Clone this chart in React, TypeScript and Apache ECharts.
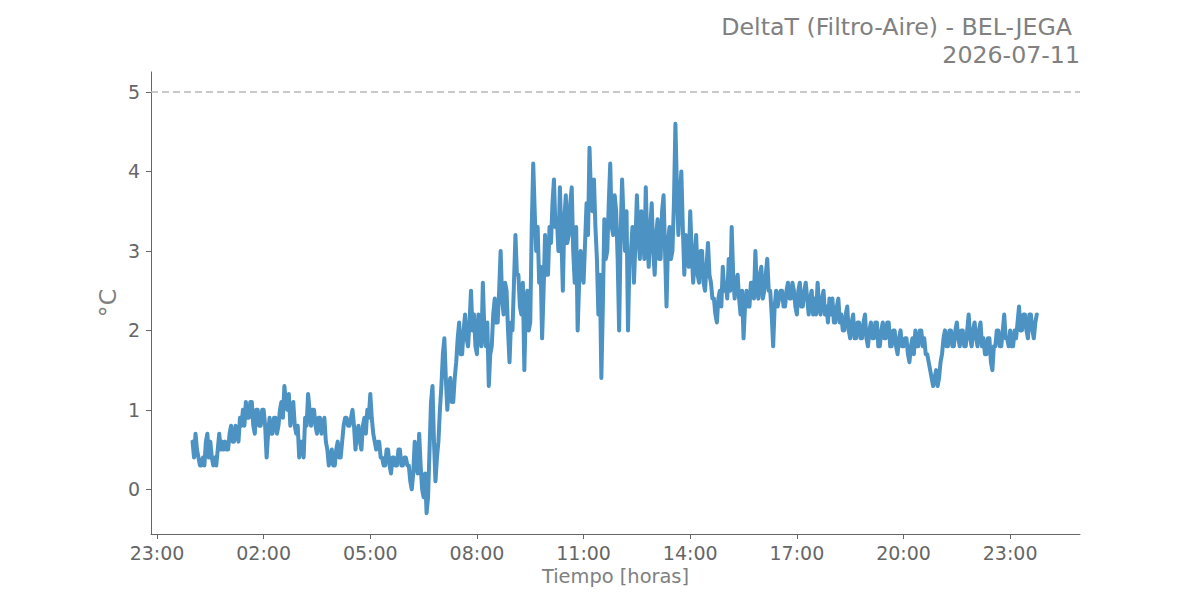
import { useEffect, useRef } from "react";
import * as echarts from "echarts";

// DeltaT readings every 2.5 minutes from 00:00 (°C), one row per hour
const stepMinutes = 2.5;
const deltaT: number[] = [
  0.6, 0.4, 0.7, 0.5, 0.4, 0.3, 0.3, 0.4, 0.3, 0.6, 0.7, 0.4, 0.6, 0.4, 0.3, 0.4, 0.3, 0.5, 0.7, 0.5, 0.6, 0.5, 0.6, 0.5, // 00
  0.5, 0.7, 0.8, 0.6, 0.6, 0.8, 0.7, 0.6, 0.9, 0.8, 1.0, 0.8, 1.1, 0.9, 0.9, 1.1, 1.1, 0.8, 0.7, 1.0, 1.0, 0.8, 0.8, 1.0, // 01
  1.0, 0.8, 0.4, 0.7, 0.9, 0.7, 0.7, 0.9, 0.9, 0.7, 0.8, 1.0, 1.1, 0.9, 1.3, 1.1, 1.0, 1.2, 0.8, 1.0, 1.1, 0.8, 0.7, 0.8, // 02
  0.4, 0.6, 0.6, 0.4, 0.9, 0.8, 1.2, 1.0, 0.8, 1.0, 1.0, 0.8, 0.7, 0.9, 0.9, 0.7, 0.8, 0.9, 0.6, 0.5, 0.3, 0.4, 0.5, 0.3, // 03
  0.3, 0.5, 0.6, 0.4, 0.4, 0.6, 0.8, 0.9, 0.9, 0.8, 0.8, 0.9, 1.0, 0.8, 0.5, 0.7, 0.8, 0.6, 0.5, 0.8, 0.9, 0.7, 1.0, 0.9, // 04
  1.2, 0.9, 0.7, 0.6, 0.5, 0.6, 0.6, 0.4, 0.4, 0.3, 0.3, 0.5, 0.5, 0.3, 0.2, 0.4, 0.4, 0.3, 0.3, 0.5, 0.5, 0.3, 0.3, 0.4, // 05
  0.4, 0.3, 0.3, 0.1, 0.0, 0.2, 0.6, 0.3, 0.2, 0.7, 0.3, 0.0, -0.1, 0.2, -0.3, -0.1, 0.5, 1.1, 1.3, 0.6, 0.1, 0.4, 0.6, 1.0, // 06
  1.3, 1.7, 1.9, 1.4, 1.0, 1.3, 1.4, 1.1, 1.1, 1.4, 1.6, 1.9, 2.1, 1.7, 1.7, 2.0, 2.2, 1.9, 1.8, 2.1, 2.5, 2.0, 2.2, 1.8, // 07
  1.7, 2.2, 2.1, 1.8, 2.6, 2.0, 1.8, 2.1, 1.3, 1.7, 1.8, 2.2, 2.4, 2.1, 2.1, 2.5, 3.0, 2.4, 2.2, 2.6, 2.5, 2.0, 1.6, 2.1, // 08
  2.0, 2.6, 3.2, 2.7, 2.7, 2.3, 2.2, 2.6, 1.5, 2.3, 2.5, 2.0, 2.1, 3.3, 4.1, 3.5, 3.0, 3.3, 2.6, 2.8, 1.9, 2.5, 3.2, 2.7, // 09
  2.7, 3.3, 3.1, 3.6, 3.9, 3.3, 3.4, 3.0, 3.8, 3.2, 2.5, 3.4, 3.7, 3.1, 3.2, 3.6, 3.8, 3.0, 2.6, 3.3, 2.0, 2.6, 3.0, 2.7, // 10
  2.6, 3.1, 3.6, 3.2, 4.3, 3.7, 3.5, 3.9, 3.3, 2.9, 2.2, 2.7, 1.4, 2.3, 3.4, 2.9, 3.0, 3.6, 4.1, 3.3, 3.2, 3.7, 3.5, 2.9, // 11
  2.0, 3.2, 3.9, 3.4, 3.0, 3.5, 2.0, 2.9, 3.0, 3.3, 2.6, 3.1, 3.7, 3.2, 2.9, 3.5, 3.3, 2.9, 3.8, 3.1, 2.8, 3.3, 3.6, 3.0, // 12
  2.7, 3.2, 3.4, 2.9, 2.9, 3.5, 3.7, 3.0, 2.3, 3.1, 3.3, 2.9, 3.0, 3.6, 4.6, 3.8, 3.2, 3.7, 4.0, 3.3, 2.7, 3.2, 3.1, 2.8, // 13
  3.5, 3.0, 2.6, 2.9, 3.2, 2.7, 2.6, 3.0, 3.0, 2.6, 2.5, 2.8, 3.1, 2.7, 2.6, 2.4, 2.4, 2.2, 2.1, 2.4, 2.5, 2.3, 2.8, 2.5, // 14
  2.6, 2.4, 2.9, 2.5, 3.3, 2.7, 2.4, 2.6, 2.7, 2.4, 2.2, 2.5, 1.9, 2.3, 2.5, 2.3, 2.3, 2.6, 2.6, 2.4, 3.0, 2.5, 2.4, 2.7, // 15
  2.8, 2.4, 2.5, 2.7, 2.9, 2.5, 2.5, 2.2, 1.8, 2.3, 2.5, 2.3, 2.4, 2.5, 2.5, 2.3, 2.3, 2.5, 2.6, 2.4, 2.4, 2.6, 2.5, 2.3, // 16
  2.2, 2.5, 2.6, 2.3, 2.3, 2.5, 2.6, 2.4, 2.2, 2.4, 2.5, 2.2, 2.4, 2.2, 2.6, 2.3, 2.2, 2.4, 2.5, 2.2, 2.3, 2.1, 2.4, 2.2, // 17
  2.4, 2.1, 2.1, 2.3, 2.4, 2.1, 2.2, 2.0, 2.0, 2.2, 2.3, 2.0, 1.9, 2.1, 2.2, 1.9, 1.9, 2.1, 2.1, 1.9, 1.9, 2.1, 2.2, 1.9, // 18
  1.8, 2.0, 2.1, 1.9, 1.9, 2.1, 2.1, 1.8, 1.8, 2.0, 2.1, 1.9, 1.9, 2.1, 2.1, 1.8, 1.8, 2.0, 2.0, 1.8, 1.7, 1.9, 2.0, 1.8, // 19
  1.8, 1.9, 1.9, 1.7, 1.6, 1.8, 1.9, 1.7, 2.0, 1.8, 1.8, 2.0, 2.0, 1.8, 1.9, 1.7, 1.7, 1.6, 1.5, 1.4, 1.3, 1.4, 1.5, 1.3, // 20
  1.4, 1.6, 1.7, 1.9, 2.0, 1.8, 1.8, 2.0, 2.0, 1.8, 1.8, 2.0, 2.1, 1.9, 1.8, 2.0, 2.0, 1.8, 1.8, 2.0, 2.2, 1.9, 1.8, 2.0, // 21
  2.1, 1.9, 1.8, 2.0, 2.1, 1.8, 1.9, 1.7, 1.7, 1.9, 1.9, 1.6, 1.5, 1.8, 1.8, 2.0, 2.0, 1.8, 1.8, 2.0, 2.2, 1.9, 1.9, 1.8, // 22
  2.0, 1.8, 1.8, 2.0, 1.9, 2.1, 2.3, 2.0, 2.0, 2.2, 2.2, 2.0, 1.9, 2.2, 2.2, 2.0, 1.9, 2.1, 2.2, // 23
];

// tick positions in hours from midnight, and their labels
const xTickHours = [-1, 2, 5, 8, 11, 14, 17, 20, 23];
const xTickLabels = ["23:00", "02:00", "05:00", "08:00", "11:00", "14:00", "17:00", "20:00", "23:00"];
const yTicks = [0, 1, 2, 3, 4, 5];
const thresholdValue = 5;

const titleLine1 = "DeltaT (Filtro-Aire) - BEL-JEGA";
const titleLine2 = "2026-07-11";

const FONT = "DejaVu Sans";

function App() {
  const chartRef = useRef<HTMLDivElement>(null);

  useEffect(() => {
    if (!chartRef.current) return;
    const chart = echarts.init(chartRef.current, undefined, { renderer: "svg" });

    const points = deltaT.map((v, i) => [(i * stepMinutes) / 60, v]);

    chart.setOption({
      animation: false,
      backgroundColor: "#ffffff",
      textStyle: { fontFamily: FONT },
      grid: { left: 151, right: 120, top: 72, bottom: 66 },
      graphic: [
        {
          type: "text",
          right: 128,
          top: 15,
          style: { text: titleLine1, fontSize: 23.7, fill: "#808080", fontFamily: FONT },
        },
        {
          type: "text",
          right: 120,
          top: 43,
          style: { text: titleLine2, fontSize: 23.7, fill: "#808080", fontFamily: FONT },
        },
      ],
      xAxis: {
        type: "value",
        min: -1.169,
        max: 24.965,
        name: "Tiempo [horas]",
        nameLocation: "middle",
        nameGap: 33,
        nameMoveOverlap: false,
        nameTextStyle: { fontSize: 19.4, color: "#808080", fontFamily: FONT },
        axisLine: { show: true, onZero: false, lineStyle: { color: "#666666", width: 1 } },
        axisTick: { show: true, length: 5, customValues: xTickHours, lineStyle: { color: "#666666" } },
        axisLabel: {
          customValues: xTickHours,
          margin: 9,
          fontSize: 19,
          color: "#666666",
          fontFamily: FONT,
          formatter: (val: number) => {
            const idx = xTickHours.findIndex((h) => Math.abs(h - val) < 1e-6);
            return idx >= 0 ? xTickLabels[idx] : "";
          },
        },
        splitLine: { show: false },
      },
      yAxis: {
        type: "value",
        min: -0.5625,
        max: 5.252,
        name: "°C",
        nameLocation: "middle",
        nameRotate: 90,
        nameGap: 31,
        nameMoveOverlap: false,
        nameTextStyle: { fontSize: 23.7, color: "#808080", fontFamily: FONT },
        axisLine: { show: true, onZero: false, lineStyle: { color: "#666666", width: 1 } },
        axisTick: { show: true, length: 5, customValues: yTicks, lineStyle: { color: "#666666" } },
        axisLabel: {
          customValues: yTicks,
          margin: 11,
          fontSize: 19,
          color: "#666666",
          fontFamily: FONT,
        },
        splitLine: { show: false },
      },
      series: [
        {
          type: "line",
          data: points,
          showSymbol: false,
          symbol: "none",
          lineStyle: { color: "#4c92c3", width: 4, cap: "round", join: "round" },
          markLine: {
            silent: true,
            symbol: "none",
            label: { show: false },
            lineStyle: { color: "#b8b8b8", type: [7, 4], width: 1.5 },
            data: [{ yAxis: thresholdValue }],
          },
        },
      ],
    });

    return () => {
      chart.dispose();
    };
  }, []);

  return (
    <div
      ref={chartRef}
      style={{ position: "fixed", left: 0, top: 0, width: "1200px", height: "600px" }}
    />
  );
}

export default App;
